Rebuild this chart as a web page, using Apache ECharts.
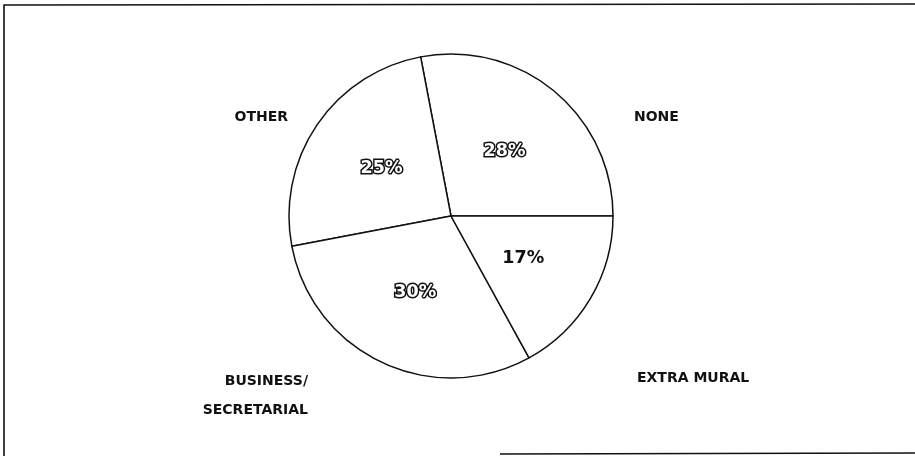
<!DOCTYPE html>
<html>
<head>
<meta charset="utf-8">
<script src="https://cdn.jsdelivr.net/npm/echarts@6/dist/echarts.min.js"></script>
<style>
  html, body { margin: 0; padding: 0; background: #fff; }
  #chart { width: 915px; height: 456px; }
</style>
</head>
<body>
<div id="chart"></div>
<script>
// Categories and their shares (percent), in counter-clockwise order from 3 o'clock
const categories = ['NONE', 'OTHER', 'BUSINESS/\nSECRETARIAL', 'EXTRA MURAL'];
const shares = [28, 25, 30, 17];

const FONT = '"DejaVu Sans", "Open Sans", sans-serif';
const CENTER = [451, 216];
const RADIUS = 162;

// Percent labels: the first three are drawn as outlined type, the last solid
const outlined = [true, true, true, false];
// Placement of the category names around the pie (styling only)
const namePlacement = [
  { x: 634, y: 117, align: 'left' },
  { x: 288, y: 117, align: 'right' },
  { x: 308, y: 396, align: 'right' },
  { x: 637, y: 378, align: 'left' }
];

const sliceData = categories.map((name, i) => ({
  name: name,
  value: shares[i],
  label: outlined[i]
    ? { color: '#fff', textBorderColor: '#111', textBorderWidth: 3 }
    : { color: '#111', textBorderWidth: 0 }
}));

const chart = echarts.init(document.getElementById('chart'), null, { renderer: 'canvas' });

chart.setOption({
  backgroundColor: '#fff',
  animation: false,
  graphic: [
    // frame around the figure
    { type: 'polyline', silent: true,
      shape: { points: [[915, 4], [4, 5], [4, 456]] },
      style: { stroke: '#111', lineWidth: 1.6, fill: null } },
    { type: 'line', silent: true,
      shape: { x1: 500, y1: 454, x2: 915, y2: 453 },
      style: { stroke: '#111', lineWidth: 1.6 } }
  ],
  series: [
    {
      type: 'pie',
      center: CENTER,
      radius: RADIUS,
      startAngle: 0,
      clockwise: false,
      silent: true,
      itemStyle: { color: '#fff', borderColor: '#111', borderWidth: 1.5 },
      label: {
        show: true,
        position: 'inside',
        formatter: p => p.value + '%',
        fontFamily: FONT,
        fontWeight: 'bold',
        fontSize: 17.5
      },
      labelLine: { show: false },
      data: sliceData
    },
    {
      // category names, drawn from the same shares on an invisible copy
      type: 'pie',
      center: CENTER,
      radius: RADIUS,
      startAngle: 0,
      clockwise: false,
      silent: true,
      z: 3,
      itemStyle: { color: 'rgba(0,0,0,0)', borderWidth: 0 },
      label: {
        show: true,
        position: 'outside',
        formatter: p => p.name,
        fontFamily: FONT,
        fontWeight: 'bold',
        fontSize: 14,
        lineHeight: 29,
        color: '#111'
      },
      labelLine: { show: false },
      labelLayout: params => {
        const p = namePlacement[params.dataIndex];
        return { x: p.x, y: p.y, align: p.align, verticalAlign: 'middle' };
      },
      data: categories.map((name, i) => ({ name: name, value: shares[i] }))
    }
  ]
});
</script>
</body>
</html>
